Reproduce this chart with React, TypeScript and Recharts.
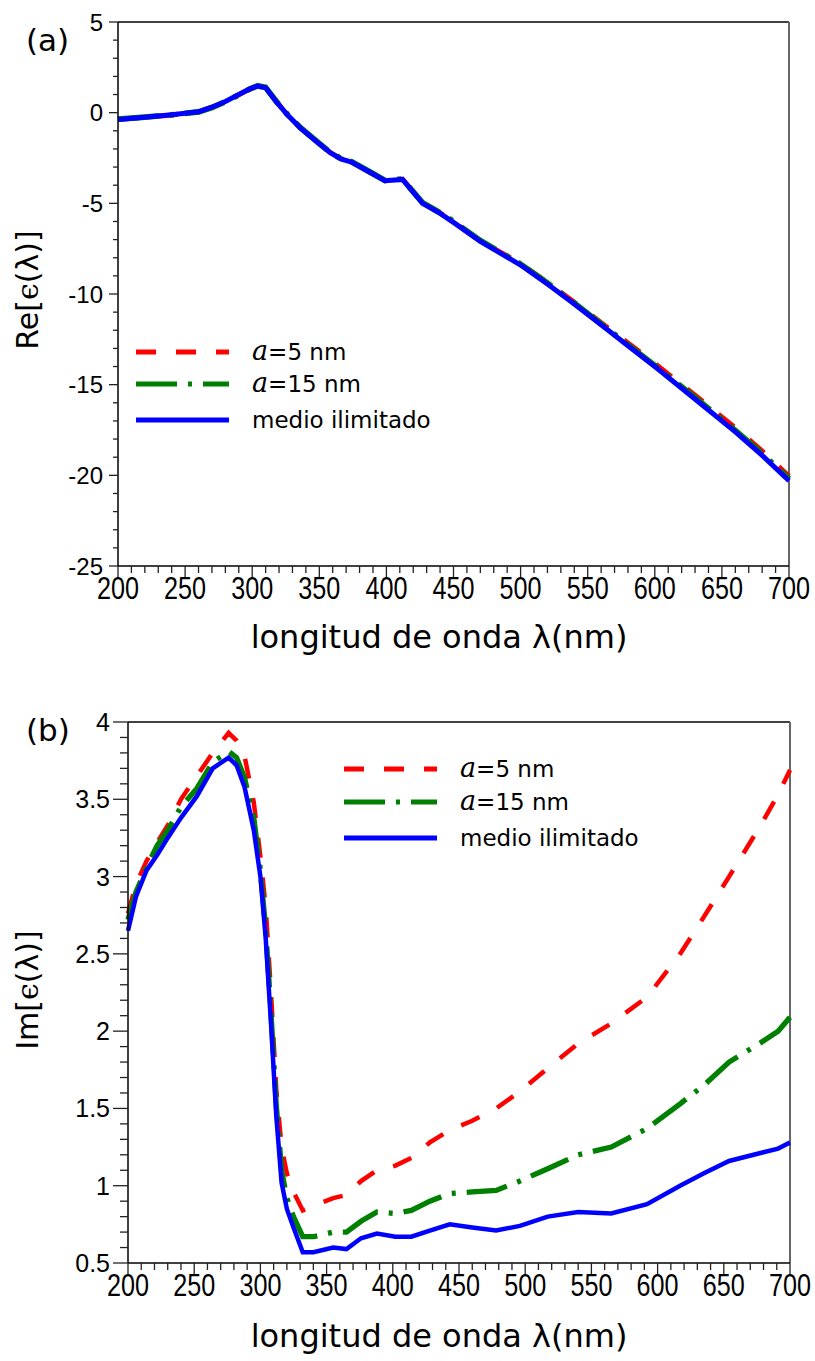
import React from 'react';
import { LineChart, Line, XAxis, YAxis, ReferenceLine } from 'recharts';

// ---------- Panel (a): Re[eps] ----------
const reWavelength = [200,220,240,260,270,280,290,298,304,310,318,326,336,348,358,366,374,388,399,412,427,440,450,470,500,520,540,560,580,600,620,640,660,680,700];
const reA5 = [-0.37,-0.25,-0.13,0.04,0.29,0.61,0.99,1.3,1.47,1.39,0.61,-0.09,-0.84,-1.59,-2.19,-2.53,-2.71,-3.29,-3.74,-3.67,-4.98,-5.53,-6.02,-7.07,-8.33,-9.37,-10.45,-11.58,-12.7,-13.83,-15.0,-16.18,-17.38,-18.66,-20.05];
const reA15 = [-0.36,-0.24,-0.12,0.04,0.28,0.6,0.98,1.3,1.48,1.4,0.62,-0.08,-0.83,-1.58,-2.18,-2.52,-2.7,-3.28,-3.74,-3.66,-4.97,-5.52,-6.0,-7.05,-8.35,-9.4,-10.5,-11.65,-12.8,-13.95,-15.12,-16.32,-17.52,-18.8,-20.2];
const reBulk = [-0.38,-0.25,-0.12,0.05,0.3,0.62,1.0,1.3,1.47,1.38,0.6,-0.1,-0.85,-1.6,-2.2,-2.55,-2.72,-3.3,-3.75,-3.68,-5.0,-5.55,-6.05,-7.1,-8.4,-9.45,-10.55,-11.7,-12.85,-14.0,-15.2,-16.4,-17.6,-18.9,-20.3];

// ---------- Panel (b): Im[eps] ----------
const imWavelength = [200,206,214,222,230,240,252,264,276,282,288,295,300,304,308,312,316,320,325,332,340,355,365,376,388,402,414,428,443,460,478,496,517,540,565,592,617,635,654,677,691,700];
const imA5 = [2.76,2.95,3.1,3.22,3.33,3.5,3.65,3.8,3.93,3.88,3.78,3.48,3.13,2.8,2.25,1.62,1.25,1.08,0.96,0.84,0.87,0.92,0.94,1.03,1.1,1.13,1.18,1.28,1.36,1.42,1.5,1.61,1.76,1.92,2.05,2.22,2.5,2.74,3.0,3.32,3.53,3.69];
const imA15 = [2.72,2.9,3.06,3.2,3.3,3.45,3.57,3.74,3.81,3.77,3.64,3.38,3.04,2.66,2.12,1.52,1.1,0.92,0.8,0.67,0.67,0.7,0.7,0.77,0.83,0.82,0.84,0.9,0.95,0.96,0.97,1.03,1.11,1.2,1.25,1.37,1.53,1.65,1.8,1.92,2.0,2.09];
const imBulk = [2.65,2.87,3.04,3.14,3.25,3.38,3.52,3.7,3.77,3.72,3.58,3.3,3.0,2.6,2.05,1.45,1.02,0.85,0.73,0.57,0.57,0.6,0.59,0.66,0.69,0.67,0.67,0.71,0.75,0.73,0.71,0.74,0.8,0.83,0.82,0.88,1.0,1.08,1.16,1.21,1.24,1.28];

// ---------- Axes ----------
const xMajorTicks = [200,250,300,350,400,450,500,550,600,650,700];
const xAllTicks = Array.from({ length: 51 }, (_, i) => 200 + i * 10);
const reMajorTicks = [-25,-20,-15,-10,-5,0,5];
const reAllTicks = Array.from({ length: 31 }, (_, i) => -25 + i);
const imMajorTicks = [0.5,1,1.5,2,2.5,3,3.5,4];
const imAllTicks = Array.from({ length: 36 }, (_, i) => Math.round((0.5 + i * 0.1) * 10) / 10);

const seriesNames = ['=5 nm', '=15 nm', 'medio ilimitado'];
const seriesColors = ['#ff0000', '#008000', '#0000ff'];
const seriesDash = ['20 20', '41 11 4 11', undefined];
const seriesKeys = ['a5', 'a15', 'bulk'];

const reData = reWavelength.map((w, i) => ({ w, a5: reA5[i], a15: reA15[i], bulk: reBulk[i] }));
const imData = imWavelength.map((w, i) => ({ w, a5: imA5[i], a15: imA15[i], bulk: imBulk[i] }));

const NARROW = "'Liberation Sans Narrow', 'Liberation Sans', Arial, sans-serif";
const SANS = "'Liberation Sans', Arial, sans-serif";
const DEJA = "'DejaVu Sans', Verdana, sans-serif";

const isMajor = (v: number, majors: number[]) => majors.some((m) => Math.abs(m - v) < 1e-6);

const makeXTick = (majors: number[]) => (p: any) => {
  const { x, y, payload } = p;
  const v = payload.value;
  const major = isMajor(v, majors);
  return (
    <g>
      <line x1={x} y1={y} x2={x} y2={y + (major ? 12 : 7)} stroke="#222" strokeWidth={1.3} />
      {major && (
        <text
          x={0}
          y={0}
          transform={`translate(${x},${y + 33}) scale(0.84,1.04)`}
          textAnchor="middle"
          fontFamily={NARROW}
          fontSize={30}
          fill="#000"
        >
          {v}
        </text>
      )}
    </g>
  );
};

const makeYTick = (majors: number[], majorLen: number, minorLen: number, gap: number, fs: number) => (p: any) => {
  const { x, y, payload } = p;
  const v = payload.value;
  const major = isMajor(v, majors);
  return (
    <g>
      <line x1={x} y1={y} x2={x - (major ? majorLen : minorLen)} y2={y} stroke="#222" strokeWidth={1.3} />
      {major && (
        <text x={x - gap} y={y + fs * 0.36} textAnchor="end" fontFamily={SANS} fontSize={fs} fill="#000">
          {String(v)}
        </text>
      )}
    </g>
  );
};

const LegendBox = ({ x0, dy, textX }: { x0: number; dy: number[]; textX: number }) => (
  <g>
    {seriesNames.map((n, i) => (
      <g key={n}>
        <line
          x1={x0}
          x2={x0 + 93}
          y1={dy[i]}
          y2={dy[i]}
          stroke={seriesColors[i]}
          strokeWidth={5}
          strokeDasharray={seriesDash[i]}
        />
        <text x={textX} y={dy[i] + 8} fontFamily={DEJA} fontSize={23} fill="#000">
          {i < 2 && (
            <tspan fontFamily="'DejaVu Serif', serif" fontStyle="italic" fontSize={27}>
              a
            </tspan>
          )}
          {n}
        </text>
      </g>
    ))}
  </g>
);

const renderLines = (w: number) =>
  seriesKeys.map((k, i) => (
    <Line
      key={k}
      type="linear"
      dataKey={k}
      stroke={seriesColors[i]}
      strokeWidth={i === 1 ? w + 0.8 : w}
      strokeDasharray={seriesDash[i]}
      dot={false}
      activeDot={false}
      isAnimationActive={false}
    />
  ));

export default function App() {
  return (
    <div style={{ position: 'absolute', left: 0, top: 0, width: 815, height: 1361, background: '#fff' }}>
      <div style={{ position: 'absolute', left: 0, top: 0 }}>
        <LineChart width={815} height={680} data={reData} margin={{ top: 22, right: 26, bottom: 0, left: 0 }}>
          <XAxis
            dataKey="w"
            type="number"
            domain={[200, 700]}
            ticks={xAllTicks}
            interval={0}
            height={114}
            tickSize={0}
            tickMargin={0}
            tickLine={false}
            axisLine={{ stroke: '#000', strokeWidth: 1.5 }}
            tick={makeXTick(xMajorTicks)}
          />
          <YAxis
            type="number"
            domain={[-25, 5]}
            ticks={reAllTicks}
            interval={0}
            width={118}
            tickSize={0}
            tickMargin={0}
            tickLine={false}
            axisLine={{ stroke: '#000', strokeWidth: 1.5 }}
            tick={makeYTick(reMajorTicks, 9, 5, 15, 24)}
          />
          <ReferenceLine y={5} stroke="#000" strokeWidth={1.5} />
          <ReferenceLine x={700} stroke="#666" strokeWidth={2} />
          {renderLines(5)}
        </LineChart>
      </div>
      <div style={{ position: 'absolute', left: 0, top: 680 }}>
        <LineChart width={815} height={681} data={imData} margin={{ top: 42, right: 25, bottom: 0, left: 0 }}>
          <XAxis
            dataKey="w"
            type="number"
            domain={[200, 700]}
            ticks={xAllTicks}
            interval={0}
            height={98}
            tickSize={0}
            tickMargin={0}
            tickLine={false}
            axisLine={{ stroke: '#000', strokeWidth: 1.5 }}
            tick={makeXTick(xMajorTicks)}
          />
          <YAxis
            type="number"
            domain={[0.5, 4]}
            ticks={imAllTicks}
            interval={0}
            width={128}
            tickSize={0}
            tickMargin={0}
            tickLine={false}
            axisLine={{ stroke: '#000', strokeWidth: 1.5 }}
            tick={makeYTick(imMajorTicks, 15, 8, 18, 25)}
          />
          <ReferenceLine y={4} stroke="#000" strokeWidth={1.5} />
          <ReferenceLine x={700} stroke="#666" strokeWidth={2} />
          {renderLines(4.5)}
        </LineChart>
      </div>
      <svg
        width={815}
        height={1361}
        style={{ position: 'absolute', left: 0, top: 0, pointerEvents: 'none' }}
      >
        <text x={26} y={51} fontFamily={DEJA} fontSize={31} fill="#000">(a)</text>
        <text x={26} y={741} fontFamily={DEJA} fontSize={31} fill="#000">(b)</text>
        <text x={439} y={648} textAnchor="middle" fontFamily={DEJA} fontSize={32} fill="#000">
          longitud de onda λ(nm)
        </text>
        <text x={439} y={1347} textAnchor="middle" fontFamily={DEJA} fontSize={32} fill="#000">
          longitud de onda λ(nm)
        </text>
        <text x={38} y={290} textAnchor="middle" fontFamily={DEJA} fontSize={30} fill="#000" transform="rotate(-90 38 290)">
          Re[<tspan fontFamily="'DejaVu Serif', serif">ϵ</tspan>(λ)]
        </text>
        <text x={38} y={990} textAnchor="middle" fontFamily={DEJA} fontSize={30} fill="#000" transform="rotate(-90 38 990)">
          Im[<tspan fontFamily="'DejaVu Serif', serif">ϵ</tspan>(λ)]
        </text>
        <LegendBox x0={136} dy={[352, 384, 420]} textX={252} />
        <LegendBox x0={344} dy={[769, 802, 838]} textX={460} />
      </svg>
    </div>
  );
}
